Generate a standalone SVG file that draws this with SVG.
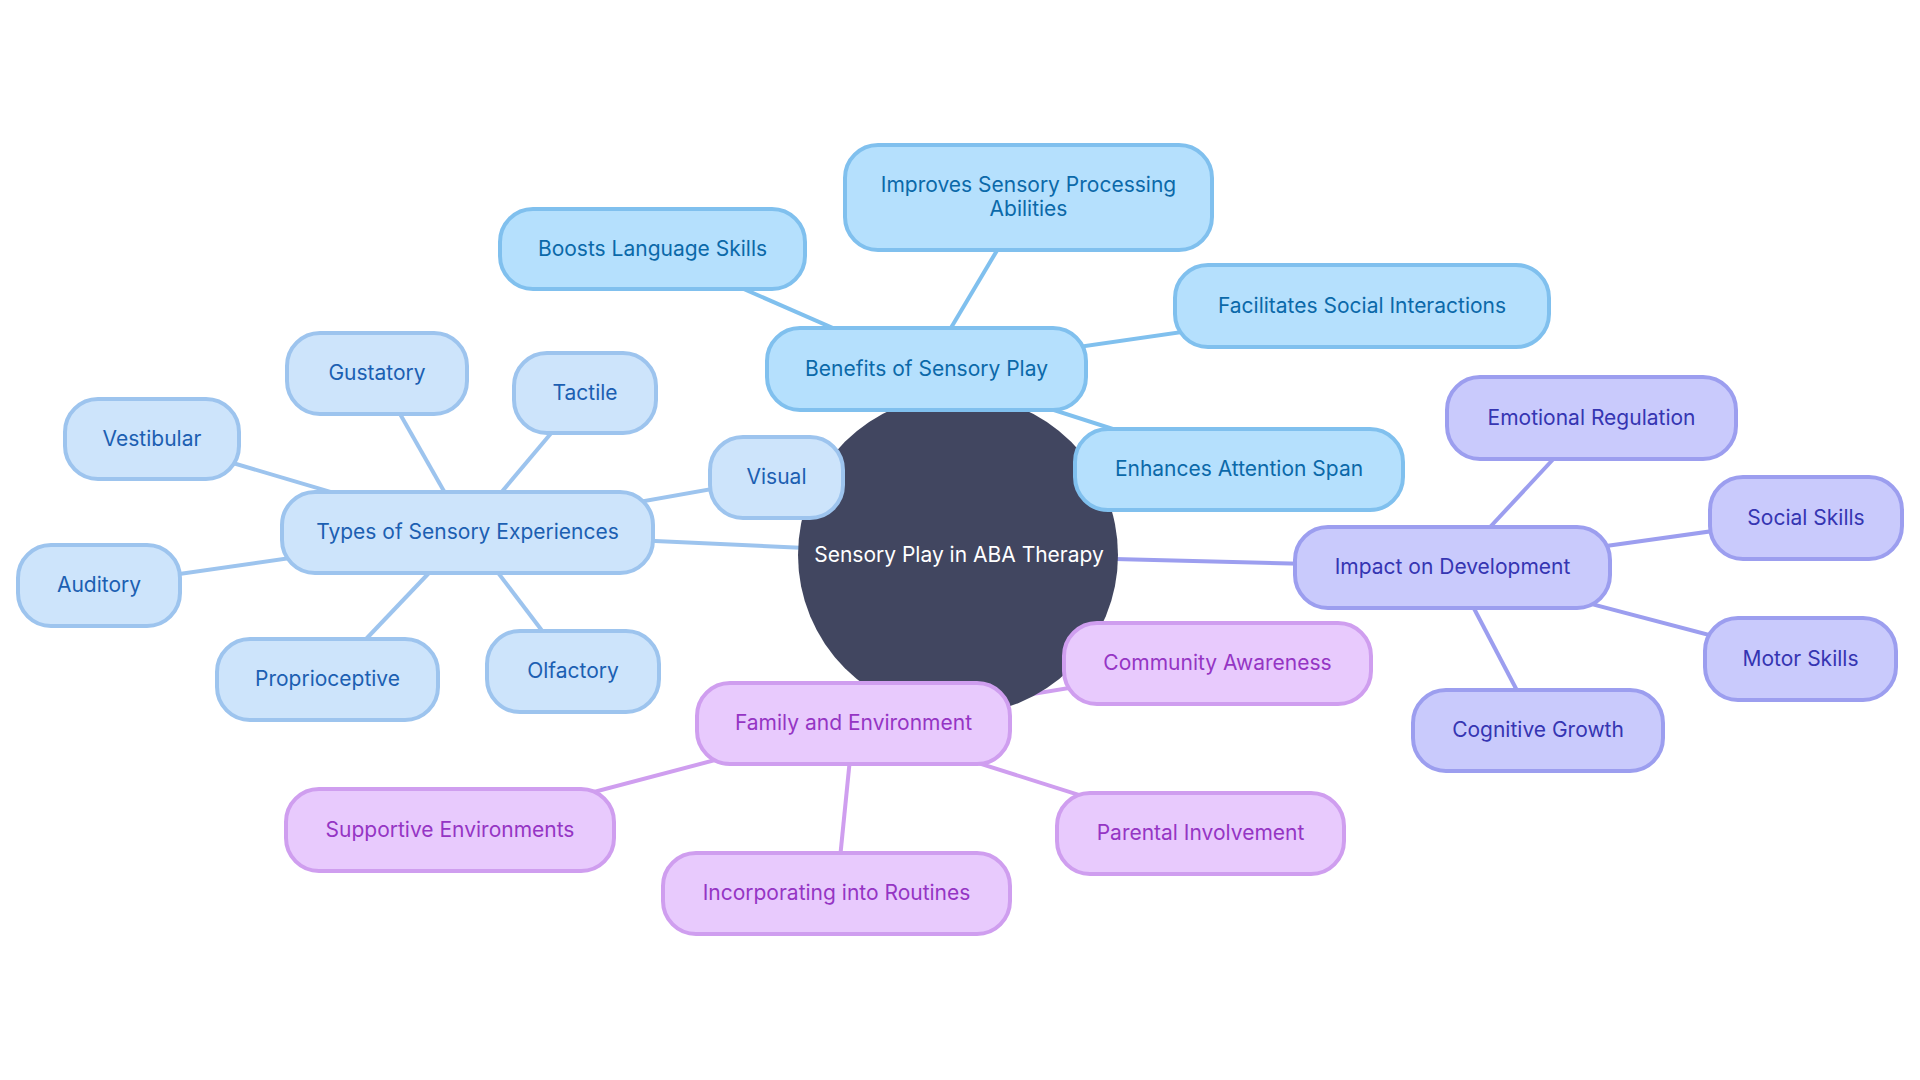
<svg xmlns="http://www.w3.org/2000/svg" width="1920" height="1080" viewBox="0 0 1920 1080">
<style>
text{font-family:Inter,"Noto Sans","Liberation Sans",sans-serif;font-size:21px;text-anchor:middle;dominant-baseline:central}
rect{rx:33px}
.t rect{fill:#cde4fb;stroke:#9dc4ee;stroke-width:4}
.t text{fill:#1c5fb2}
.b rect{fill:#b5e0fd;stroke:#80c0ee;stroke-width:4}
.b text{fill:#0b69a9}
.i rect{fill:#c9cafc;stroke:#9c9eef;stroke-width:4}
.i text{fill:#3535b2}
.f rect{fill:#e8cafd;stroke:#cf9eef;stroke-width:4}
.f text{fill:#9535c4}
#edges line{stroke-width:4;fill:none}
.et{stroke:#9dc4ee}.eb{stroke:#80c0ee}.ei{stroke:#9c9eef}.ef{stroke:#cf9eef}
</style>
<rect width="1920" height="1080" fill="#ffffff" style="rx:0"/>
<g id="edges">
<line class="et" x1="958" y1="555" x2="467.5" y2="532.5"/>
<line class="eb" x1="958" y1="555" x2="926.5" y2="369"/>
<line class="ei" x1="958" y1="555" x2="1452.5" y2="567.5"/>
<line class="ef" x1="958" y1="555" x2="853.5" y2="723.5"/>
<line class="et" x1="467.5" y1="532.5" x2="776.5" y2="477.5"/>
<line class="et" x1="467.5" y1="532.5" x2="585" y2="393"/>
<line class="et" x1="467.5" y1="532.5" x2="377" y2="373.5"/>
<line class="et" x1="467.5" y1="532.5" x2="152" y2="439"/>
<line class="et" x1="467.5" y1="532.5" x2="99" y2="585.5"/>
<line class="et" x1="467.5" y1="532.5" x2="327.5" y2="679.5"/>
<line class="et" x1="467.5" y1="532.5" x2="573" y2="671.5"/>
<line class="eb" x1="926.5" y1="369" x2="652.5" y2="249"/>
<line class="eb" x1="926.5" y1="369" x2="1028.5" y2="197.5"/>
<line class="eb" x1="926.5" y1="369" x2="1362" y2="306"/>
<line class="eb" x1="926.5" y1="369" x2="1239" y2="469.5"/>
<line class="ei" x1="1452.5" y1="567.5" x2="1591.5" y2="418"/>
<line class="ei" x1="1452.5" y1="567.5" x2="1806" y2="518"/>
<line class="ei" x1="1452.5" y1="567.5" x2="1800.5" y2="659"/>
<line class="ei" x1="1452.5" y1="567.5" x2="1538" y2="730.5"/>
<line class="ef" x1="853.5" y1="723.5" x2="1217.5" y2="663.5"/>
<line class="ef" x1="853.5" y1="723.5" x2="450" y2="830"/>
<line class="ef" x1="853.5" y1="723.5" x2="836.5" y2="893.5"/>
<line class="ef" x1="853.5" y1="723.5" x2="1200.5" y2="833.5"/>
</g>
<g id="root">
<circle cx="958" cy="555" r="160" fill="#414660"/>
<text x="959" y="554" fill="#ffffff">Sensory Play in ABA Therapy</text>
</g>
<g id="types" class="t"><rect x="282" y="492" width="371" height="81"/><text x="467.5" y="531.5">Types of Sensory Experiences</text></g>
<g id="visual" class="t"><rect x="710" y="437" width="133" height="81"/><text x="776.5" y="476.5">Visual</text></g>
<g id="tactile" class="t"><rect x="514" y="353" width="142" height="80"/><text x="585" y="392">Tactile</text></g>
<g id="gustatory" class="t"><rect x="287" y="333" width="180" height="81"/><text x="377" y="372.5">Gustatory</text></g>
<g id="vestibular" class="t"><rect x="65" y="399" width="174" height="80"/><text x="152" y="438">Vestibular</text></g>
<g id="auditory" class="t"><rect x="18" y="545" width="162" height="81"/><text x="99" y="584.5">Auditory</text></g>
<g id="proprioceptive" class="t"><rect x="217" y="639" width="221" height="81"/><text x="327.5" y="678.5">Proprioceptive</text></g>
<g id="olfactory" class="t"><rect x="487" y="631" width="172" height="81"/><text x="573" y="670.5">Olfactory</text></g>
<g id="benefits" class="b"><rect x="767" y="328" width="319" height="82"/><text x="926.5" y="368">Benefits of Sensory Play</text></g>
<g id="boosts" class="b"><rect x="500" y="209" width="305" height="80"/><text x="652.5" y="248">Boosts Language Skills</text></g>
<g id="improves" class="b"><rect x="845" y="145" width="367" height="105"/><text x="1028.5" y="184.5">Improves Sensory Processing</text><text x="1028.5" y="208.5">Abilities</text></g>
<g id="facilitates" class="b"><rect x="1175" y="265" width="374" height="82"/><text x="1362" y="305">Facilitates Social Interactions</text></g>
<g id="enhances" class="b"><rect x="1075" y="429" width="328" height="81"/><text x="1239" y="468.5">Enhances Attention Span</text></g>
<g id="impact" class="i"><rect x="1295" y="527" width="315" height="81"/><text x="1452.5" y="566.5">Impact on Development</text></g>
<g id="emotional" class="i"><rect x="1447" y="377" width="289" height="82"/><text x="1591.5" y="417">Emotional Regulation</text></g>
<g id="social" class="i"><rect x="1710" y="477" width="192" height="82"/><text x="1806" y="517">Social Skills</text></g>
<g id="motor" class="i"><rect x="1705" y="618" width="191" height="82"/><text x="1800.5" y="658">Motor Skills</text></g>
<g id="cognitive" class="i"><rect x="1413" y="690" width="250" height="81"/><text x="1538" y="729.5">Cognitive Growth</text></g>
<g id="family" class="f"><rect x="697" y="683" width="313" height="81"/><text x="853.5" y="722.5">Family and Environment</text></g>
<g id="community" class="f"><rect x="1064" y="623" width="307" height="81"/><text x="1217.5" y="662.5">Community Awareness</text></g>
<g id="supportive" class="f"><rect x="286" y="789" width="328" height="82"/><text x="450" y="829">Supportive Environments</text></g>
<g id="incorporating" class="f"><rect x="663" y="853" width="347" height="81"/><text x="836.5" y="892.5">Incorporating into Routines</text></g>
<g id="parental" class="f"><rect x="1057" y="793" width="287" height="81"/><text x="1200.5" y="832.5">Parental Involvement</text></g>
</svg>
